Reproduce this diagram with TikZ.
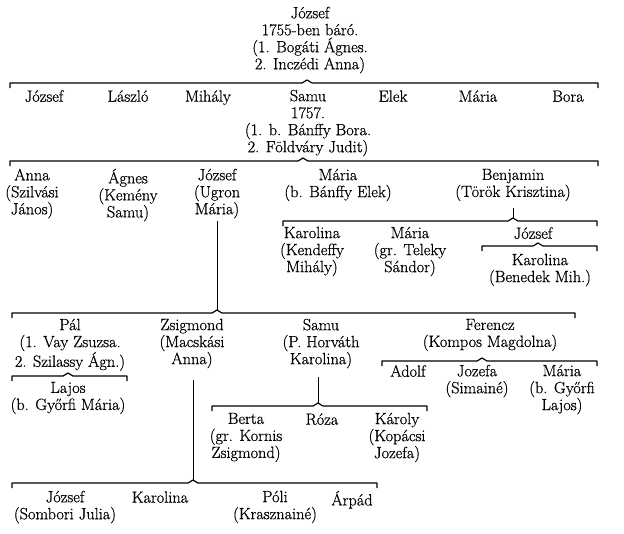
\documentclass[tikz,border=0pt]{standalone}
\usepackage{fontspec}
\newfontfamily\oldfont{Latin Modern Roman}[FakeBold=0.7]
\usetikzlibrary{calc}
\begin{document}
\begin{tikzpicture}[x=1pt,y=-1pt,
  person/.style={align=center, inner sep=0pt, anchor=north, yshift=8.4pt,
    font=\oldfont\fontsize{16.3}{17}\selectfont, execute at begin node=\strut},
  famstyle/.style={line width=1.2pt, line join=round},
  vline/.style={line width=0.85pt}]
\useasboundingbox (0,0) rectangle (624,533);
\fill[white] (0,0) rectangle (624,533);
\newcommand\famline[3]{\draw[famstyle] ([yshift=-5pt]#1) -- (#1) -- ([xshift=-5pt]#2) -- ([yshift=3pt]#2) -- ([xshift=5pt]#2) -- (#3) -- ([yshift=-5pt]#3);}

% generation 1
\node[person] (j0) at (310,15) {József\\1755-ben báró.\\(1. Bogáti Ágnes.\\2. Inczédi Anna)};
\coordinate (b1l) at (10,83); \coordinate (b1p) at (307,83); \coordinate (b1r) at (598,83);
\famline{b1l}{b1p}{b1r}

% generation 2
\node[person] (j1) at (44,98) {József};
\node[person] (laszlo) at (128,98) {László};
\node[person] (mihaly) at (208,98) {Mihály};
\node[person] (samu1) at (308,98) {Samu\\1757.\\(1. b. Bánffy Bora.\\2. Földváry Judit)};
\node[person] (elek) at (393,98) {Elek};
\node[person] (maria1) at (478,98) {Mária};
\node[person] (bora) at (568,98) {Bora};
\coordinate (b2l) at (10,161); \coordinate (b2p) at (303,161); \coordinate (b2r) at (598,161);
\famline{b2l}{b2p}{b2r}

% generation 3
\node[person] (anna) at (32,177) {Anna\\(Szilvási\\János)};
\node[person] (agnes) at (128,177) {Ágnes\\(Kemény\\Samu)};
\node[person] (jozsefU) at (217,177) {József\\(Ugron\\Mária)};
\node[person] (maria2) at (338,177) {Mária\\(b. Bánffy Elek)};
\node[person] (benjamin) at (513,177) {Benjamin\\(Török Krisztina)};
\coordinate (b3l) at (283,221); \coordinate (b3p) at (513,221); \coordinate (b3r) at (597,221);
\famline{b3l}{b3p}{b3r}
\draw[vline, shorten <=6pt] (benjamin.south -| b3p) -- ([yshift=3pt]b3p);

\node[person] (karolina1) at (312,235) {Karolina\\(Kendeffy\\Mihály)};
\node[person] (maria3) at (410,235) {Mária\\(gr. Teleky\\Sándor)};
\node[person] (jozsefB) at (533,235) {József};
\coordinate (b4l) at (482,246); \coordinate (b4p) at (538,246); \coordinate (b4r) at (597,246);
\famline{b4l}{b4p}{b4r}
\node[person] (karolina2) at (540,262) {Karolina\\(Benedek Mih.)};

% generation 4
\coordinate (b5l) at (12,313); \coordinate (b5p) at (217,313); \coordinate (b5r) at (575,313);
\famline{b5l}{b5p}{b5r}
\draw[vline, shorten <=1pt] (jozsefU.south -| b5p) -- ([yshift=3pt]b5p);

\node[person] (pal) at (70,327) {Pál\\(1. Vay Zsuzsa.\\2. Szilassy Ágn.)};
\node[person] (zsigmond) at (192,327) {Zsigmond\\(Macskási\\Anna)};
\node[person] (samu2) at (321,327) {Samu\\(P. Horváth\\Karolina)};
\node[person] (ferencz) at (490,327) {Ferencz\\(Kompos Magdolna)};

\coordinate (b6l) at (12,376); \coordinate (b6p) at (68,376); \coordinate (b6r) at (127,376);
\famline{b6l}{b6p}{b6r}
\node[person] (lajos) at (68,390) {Lajos\\(b. Győrfi Mária)};

\coordinate (b7l) at (382,361); \coordinate (b7p) at (482,361); \coordinate (b7r) at (597,361);
\famline{b7l}{b7p}{b7r}
\node[person] (adolf) at (408,373) {Adolf};
\node[person] (jozefa) at (477,373) {Jozefa\\(Simainé)};
\node[person] (maria4) at (562,373) {Mária\\(b. Győrfi\\Lajos)};

\coordinate (b8l) at (212,406); \coordinate (b8p) at (318,406); \coordinate (b8r) at (427,406);
\famline{b8l}{b8p}{b8r}
\draw[vline, shorten <=8pt] (samu2.south -| b8p) -- ([yshift=3pt]b8p);
\node[person] (berta) at (246,421) {Berta\\(gr. Kornis\\Zsigmond)};
\node[person] (roza) at (322,421) {Róza};
\node[person] (karoly) at (397,421) {Károly\\(Kopácsi\\Jozefa)};

% generation 5
\coordinate (b9l) at (12,483); \coordinate (b9p) at (193,483); \coordinate (b9r) at (377,483);
\famline{b9l}{b9p}{b9r}
\draw[vline, shorten <=11pt] (zsigmond.south -| b9p) -- ([yshift=3pt]b9p);
\node[person] (jozsefS) at (65,499) {József\\(Sombori Julia)};
\node[person] (karolina3) at (160,499) {Karolina};
\node[person] (poli) at (275,499) {Póli\\(Krasznainé)};
\node[person] (arpad) at (352,499) {Árpád};
\end{tikzpicture}
\end{document}
